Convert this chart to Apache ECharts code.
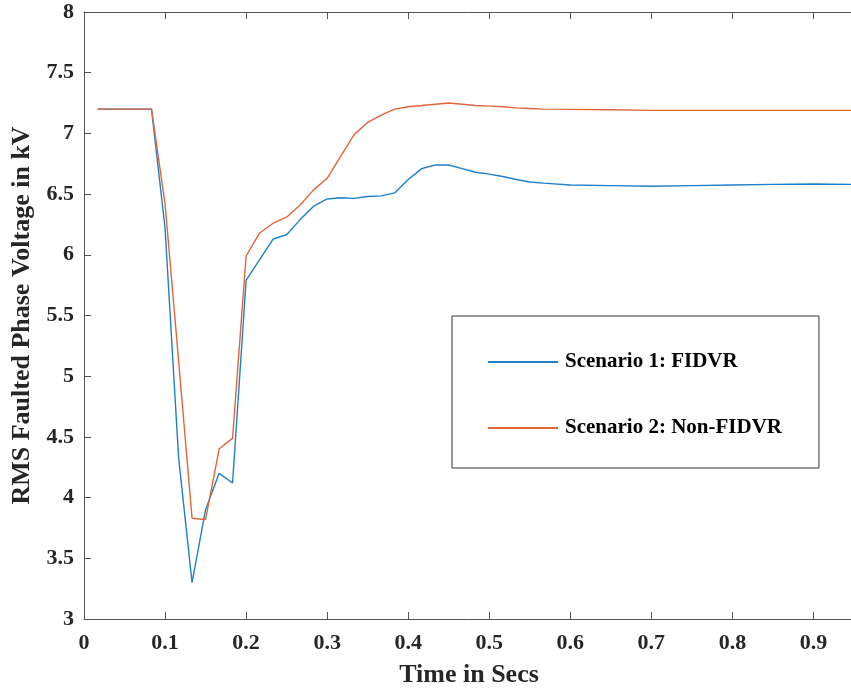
<!DOCTYPE html>
<html>
<head>
    <meta charset="utf-8">
    <title>RMS Faulted Phase Voltage</title>
    <script src="https://cdn.jsdelivr.net/npm/echarts@6/dist/echarts.min.js"></script>
    <style>
        html, body { margin: 0; padding: 0; background: #fff; }
        #chart { width: 851px; height: 692px; }
    </style>
</head>
<body>
<div id="chart"></div>
<script type="text/javascript">
    // time samples (s), one per cycle up to 0.5667, sparser on the flat tail
    var timeSecs = [0.0167, 0.0333, 0.05, 0.0667, 0.0833, 0.1, 0.1167, 0.1333, 0.15, 0.1667,
        0.1833, 0.2, 0.2167, 0.2333, 0.25, 0.2667, 0.2833, 0.3, 0.3167, 0.3333,
        0.35, 0.3667, 0.3833, 0.4, 0.4167, 0.4333, 0.45, 0.4667, 0.4833, 0.5,
        0.5167, 0.5333, 0.55, 0.5667, 0.6, 0.65, 0.7, 0.75, 0.8, 0.85, 0.9, 0.95];
    // Scenario 1: FIDVR (kV)
    var fidvr = [7.2, 7.2, 7.2, 7.2, 7.2, 6.22, 4.33, 3.30, 3.90, 4.20,
        4.12, 5.79, 5.96, 6.13, 6.165, 6.29, 6.40, 6.46, 6.47, 6.465,
        6.48, 6.485, 6.51, 6.62, 6.71, 6.74, 6.74, 6.71, 6.68, 6.665,
        6.645, 6.62, 6.60, 6.59, 6.575, 6.57, 6.565, 6.57, 6.575, 6.58, 6.583, 6.58];
    // Scenario 2: Non-FIDVR (kV)
    var nonFidvr = [7.2, 7.2, 7.2, 7.2, 7.2, 6.42, 5.13, 3.83, 3.82, 4.40,
        4.49, 5.99, 6.18, 6.26, 6.31, 6.41, 6.535, 6.63, 6.81, 6.99,
        7.09, 7.15, 7.20, 7.22, 7.23, 7.24, 7.25, 7.24, 7.23, 7.225,
        7.22, 7.21, 7.205, 7.20, 7.198, 7.195, 7.19, 7.19, 7.19, 7.19, 7.19, 7.19];
    var seriesNames = ['Scenario 1: FIDVR', 'Scenario 2: Non-FIDVR'];

    function pairs(xs, ys) {
        var out = [];
        for (var i = 0; i < xs.length; i++) out.push([xs[i], ys[i]]);
        return out;
    }

    var font = '"Liberation Serif", "Times New Roman", serif';
    var axisColor = '#555';
    var textColor = '#262626';

    var myChart = echarts.init(document.getElementById('chart'));
    myChart.setOption({
        animation: false,
        backgroundColor: '#fff',
        grid: { left: 84, right: -3, top: 12, bottom: 73, outerBoundsMode: 'none' },
        legend: {
            orient: 'vertical',
            left: 452,
            top: 316,
            padding: [35, 37, 29, 35],
            itemGap: 44,
            itemWidth: 70,
            itemHeight: 2,
            borderColor: '#333',
            borderWidth: 1,
            backgroundColor: '#fff',
            textStyle: { fontFamily: font, fontWeight: 'bold', fontSize: 21, lineHeight: 22, color: '#000', padding: [0, 0, 0, 2] },
            data: seriesNames
        },
        xAxis: [{
            type: 'value',
            min: 0,
            max: 0.95,
            interval: 0.1,
            name: 'Time in Secs',
            nameLocation: 'middle',
            nameGap: 43,
            nameTextStyle: { fontFamily: font, fontWeight: 'bold', fontSize: 26, color: textColor },
            axisLine: { show: true, lineStyle: { color: axisColor, width: 1 } },
            axisTick: { show: true, inside: true, length: 7, lineStyle: { color: axisColor } },
            axisLabel: { margin: 13, showMaxLabel: false, fontFamily: font, fontWeight: 'bold', fontSize: 22, color: textColor },
            splitLine: { show: false }
        }, {
            type: 'value',
            position: 'top',
            min: 0,
            max: 0.95,
            interval: 0.1,
            axisLine: { show: true, lineStyle: { color: axisColor, width: 1 } },
            axisTick: { show: true, inside: true, length: 7, lineStyle: { color: axisColor } },
            axisLabel: { show: false },
            splitLine: { show: false }
        }],
        yAxis: {
            type: 'value',
            min: 3,
            max: 8,
            interval: 0.5,
            name: 'RMS Faulted Phase Voltage in kV',
            nameLocation: 'middle',
            nameGap: 48,
            nameTextStyle: { fontFamily: font, fontWeight: 'bold', fontSize: 26, color: textColor },
            axisLine: { show: true, lineStyle: { color: axisColor, width: 1 } },
            axisTick: { show: true, inside: true, length: 7, lineStyle: { color: axisColor } },
            axisLabel: { margin: 10, fontFamily: font, fontWeight: 'bold', fontSize: 22, color: textColor },
            splitLine: { show: false }
        },
        series: [{
            name: seriesNames[0],
            type: 'line',
            symbol: 'none',
            lineStyle: { color: '#1f7fc8', width: 1.4 },
            itemStyle: { color: '#1f7fc8' },
            data: pairs(timeSecs, fidvr)
        }, {
            name: seriesNames[1],
            type: 'line',
            symbol: 'none',
            lineStyle: { color: '#e0663a', width: 1.4 },
            itemStyle: { color: '#e0663a' },
            data: pairs(timeSecs, nonFidvr)
        }]
    });
</script>
</body>
</html>
